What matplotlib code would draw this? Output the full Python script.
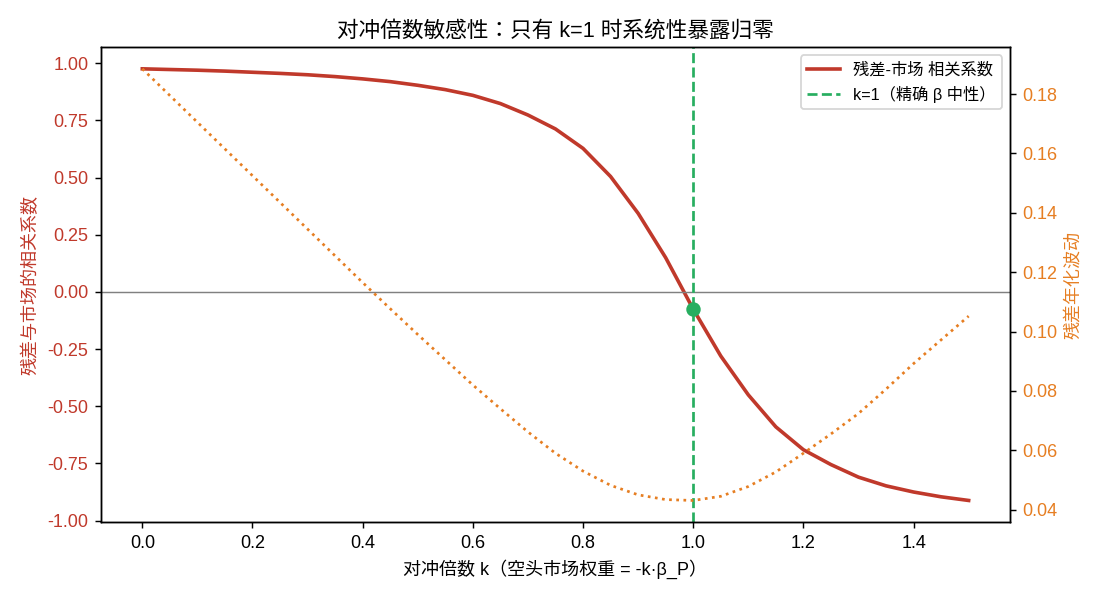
import matplotlib
matplotlib.use("Agg")
import matplotlib.pyplot as plt

plt.rcParams['font.family'] = ['Liberation Sans', 'Noto Sans CJK KR', 'DejaVu Sans']
plt.rcParams['axes.unicode_minus'] = False

# 对冲倍数 k
k = [0.00, 0.05, 0.10, 0.15, 0.20, 0.25, 0.30, 0.35, 0.40, 0.45,
     0.50, 0.55, 0.60, 0.65, 0.70, 0.75, 0.80, 0.85, 0.90, 0.95,
     1.00, 1.05, 1.10, 1.15, 1.20, 1.25, 1.30, 1.35, 1.40, 1.45, 1.50]

# 残差与市场的相关系数
corr = [0.976, 0.973, 0.970, 0.966, 0.961, 0.956, 0.950, 0.942, 0.932, 0.920,
        0.904, 0.885, 0.860, 0.824, 0.774, 0.713, 0.628, 0.505, 0.344, 0.150,
        -0.075, -0.280, -0.450, -0.590, -0.690, -0.755, -0.810, -0.848, -0.875, -0.896, -0.912]

# 残差年化波动
vol = [0.1885, 0.1795, 0.1705, 0.1615, 0.1525, 0.1435, 0.1345, 0.1255, 0.1165, 0.1077,
       0.0990, 0.0905, 0.0820, 0.0740, 0.0662, 0.0590, 0.0530, 0.0482, 0.0450, 0.0434,
       0.0431, 0.0445, 0.0478, 0.0527, 0.0590, 0.0655, 0.0724, 0.0806, 0.0892, 0.0972, 0.1052]

k_neutral = 1.0
corr_neutral = corr[k.index(k_neutral)]

red = '#c0392b'
orange = '#e67e22'
green = '#27ae60'

fig, ax1 = plt.subplots(figsize=(8.5, 4.6), dpi=130)
fig.subplots_adjust(left=0.0914, right=0.914, top=0.921, bottom=0.127)

ax1.plot(k, corr, color=red, lw=2, label='残差-市场 相关系数')
ax1.axhline(0, color='gray', lw=0.8)
ax1.axvline(k_neutral, color=green, ls='--', lw=1.5, label='k=1（精确 β 中性）')
ax1.plot([k_neutral], [corr_neutral], 'o', color=green, ms=7)
ax1.set_xlabel('对冲倍数 k（空头市场权重 = -k·β_P）')
ax1.set_ylabel('残差与市场的相关系数', color=red)
ax1.tick_params(axis='y', labelcolor=red)
ax1.set_title('对冲倍数敏感性：只有 k=1 时系统性暴露归零', fontsize=12)

ax2 = ax1.twinx()
ax2.plot(k, vol, color=orange, ls=':', lw=1.5, label='残差年化波动')
ax2.set_ylabel('残差年化波动', color=orange)
ax2.tick_params(axis='y', labelcolor=orange)

ax1.legend(loc='upper right', fontsize=9)

fig.savefig('out.png', dpi=130)
